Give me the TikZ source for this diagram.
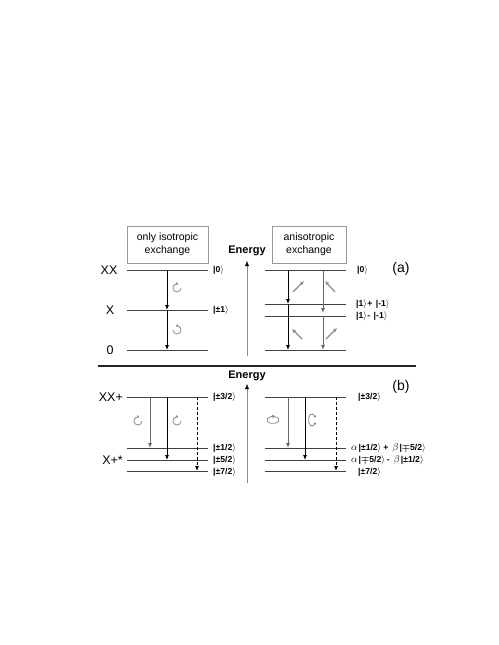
\documentclass[tikz,border=0pt]{standalone}
\usepackage{fontspec}
\setmainfont{Liberation Sans}
\usetikzlibrary{arrows.meta}
\newcommand{\kt}{\ensuremath{\rangle}}
\newcommand{\bmp}{{\boldmath$\mp$}}
\newcommand{\gk}[1]{{\fontsize{10}{10}\selectfont$#1$}}
\begin{document}
\begin{tikzpicture}[x=1pt,y=-1pt,
  level/.style={draw=black!75, line width=1pt},
  trans/.style={-{Latex[length=5pt,width=4pt]}, line width=0.8pt, black},
  transg/.style={-{Latex[length=5pt,width=4pt]}, line width=0.9pt, black!60},
  dtrans/.style={trans, dash pattern=on 3pt off 2pt},
  diag/.style={-{Latex[length=4pt,width=4pt]}, line width=1.2pt, black!45},
  energy/.style={-{Latex[length=5pt,width=4pt,black]}, line width=0.5pt, black!45},
  ebox/.style={draw=black!40, line width=0.6pt, minimum height=37pt, align=center, inner sep=1pt,
    font=\fontsize{10.5}{12.5}\selectfont},
  ket/.style={anchor=west, inner sep=0pt, font=\bfseries\fontsize{8.6}{9}\selectfont},
  stlbl/.style={inner sep=0pt, font=\fontsize{12.5}{13}\selectfont},
  elbl/.style={inner sep=0pt, font=\bfseries\fontsize{11}{12}\selectfont},
  panel/.style={inner sep=0pt, font=\fontsize{14}{15}\selectfont},
  rot/.style={draw=black!45, line width=0.8pt, -{Stealth[length=2.8pt,width=3.4pt]}},
  rot2/.style={draw=black!45, line width=0.8pt, {Stealth[length=2.4pt,width=3pt]}-{Stealth[length=2.4pt,width=3pt]}},
]
\useasboundingbox (0,0) rectangle (498,645);

% ---------- (a) left ----------
\node[ebox, minimum width=81pt] (boxL) at (167.5,244.5) {only isotropic\\exchange};
\coordinate (ltA) at (127,270); \coordinate (ltAe) at (208,270);
\coordinate (ltB) at (127,310); \coordinate (ltBe) at (208,310);
\coordinate (ltC) at (127,350); \coordinate (ltCe) at (208,350);
\draw[level] (ltA) -- (ltAe);
\draw[level] (ltB) -- (ltBe);
\draw[level] (ltC) -- (ltCe);
\node[stlbl] (sXX) at (109,270) {XX};
\node[stlbl] (sX) at (110,310) {X};
\node[stlbl] (s0) at (110,350) {0};
\node[ket] (k1) at (213,270) {|0\kt};
\node[ket] (k2) at (213,310) {|±1\kt};
\coordinate (cA) at (167,0);
\draw[trans] (cA |- ltA) -- (cA |- ltB);
\draw[trans] (cA |- ltB) -- (cA |- ltC);
\draw[rot] (177,288) ++(0:4pt) arc[start angle=0, end angle=-290, radius=4pt];
\draw[rot] (177,330) ++(180:4pt) arc[start angle=180, end angle=470, radius=4pt];

% energy arrow (a)
\node[elbl] (en1) at (247,251) {Energy};
\coordinate (en1b) at (247,356);
\coordinate (en1t) at (247,261);
\draw[energy] (en1b) -- (en1t);

% ---------- (a) right ----------
\node[ebox, minimum width=74pt] (boxR) at (309,244.5) {anisotropic\\exchange};
\coordinate (rtA) at (265,270); \coordinate (rtAe) at (346,270);
\coordinate (rtB) at (265,304); \coordinate (rtBe) at (346,304);
\coordinate (rtC) at (265,316); \coordinate (rtCe) at (346,316);
\coordinate (rtD) at (265,350); \coordinate (rtDe) at (346,350);
\draw[level] (rtA) -- (rtAe);
\draw[level] (rtB) -- (rtBe);
\draw[level] (rtC) -- (rtCe);
\draw[level] (rtD) -- (rtDe);
\node[ket] (k3) at (357,270) {|0\kt};
\node[ket] (k4) at (356,304) {|1\kt\hspace{0.5pt}+\hspace{1pt} |-1\kt};
\node[ket] (k5) at (356,316) {|1\kt\hspace{0.5pt}-\hspace{1pt} |-1\kt};
\node[panel] (pa) at (401,269) {(a)};
\coordinate (dA) at (288,0);
\coordinate (dB) at (323,0);
\draw[trans] (dA |- rtA) -- (dA |- rtB);
\draw[trans] (dA |- rtB) -- (dA |- rtD);
\draw[transg, shorten >=3pt] (dB |- rtA) -- (dB |- rtC);
\draw[transg] (dB |- rtC) -- (dB |- rtD);
\coordinate (g1s) at (293,292); \coordinate (g1e) at (304,281);
\coordinate (g2s) at (335,292); \coordinate (g2e) at (325,281);
\coordinate (g3s) at (302,339); \coordinate (g3e) at (292,329);
\coordinate (g4s) at (326,339); \coordinate (g4e) at (337,328);
\draw[diag] (g1s) -- (g1e);
\draw[diag] (g2s) -- (g2e);
\draw[diag] (g3s) -- (g3e);
\draw[diag] (g4s) -- (g4e);

% separator
\coordinate (sepL) at (98,366); \coordinate (sepR) at (416,366);
\draw[line width=1.1pt, black!85] (sepL) -- (sepR);

% ---------- (b) left ----------
\coordinate (lbA) at (127,397); \coordinate (lbAe) at (208,397);
\coordinate (lbB) at (127,448); \coordinate (lbBe) at (208,448);
\coordinate (lbC) at (127,460); \coordinate (lbCe) at (208,460);
\coordinate (lbD) at (127,471); \coordinate (lbDe) at (208,471);
\draw[level] (lbA) -- (lbAe);
\draw[level] (lbB) -- (lbBe);
\draw[level] (lbC) -- (lbCe);
\draw[level] (lbD) -- (lbDe);
\node[stlbl, anchor=east] (sXXp) at (123,397) {XX+};
\node[stlbl, anchor=east] (sXp) at (123,460) {X+*};
\node[ket] (k6) at (213,397) {|±3/2\kt};
\node[ket] (k7) at (213,448) {|±1/2\kt};
\node[ket] (k8) at (213,460) {|±5/2\kt};
\node[ket] (k9) at (213,472) {|±7/2\kt};
\coordinate (e1) at (150,0); \coordinate (e2) at (167,0); \coordinate (e3) at (197,0);
\draw[transg] (e1 |- lbA) -- (e1 |- lbB);
\draw[trans] (e2 |- lbA) -- (e2 |- lbC);
\draw[dtrans] (e3 |- lbA) -- (e3 |- lbD);
\draw[rot] (138,421) ++(0:4pt) arc[start angle=0, end angle=-290, radius=4pt];
\draw[rot] (177,421) ++(0:4pt) arc[start angle=0, end angle=-290, radius=4pt];

% energy arrow (b)
\node[elbl] (en2) at (247,376) {Energy};
\coordinate (en2b) at (247,483);
\coordinate (en2t) at (247,384);
\draw[energy] (en2b) -- (en2t);

% ---------- (b) right ----------
\coordinate (rbA) at (265,397); \coordinate (rbAe) at (346,397);
\coordinate (rbB) at (265,448); \coordinate (rbBe) at (346,448);
\coordinate (rbC) at (265,460); \coordinate (rbCe) at (346,460);
\coordinate (rbD) at (265,471); \coordinate (rbDe) at (346,471);
\draw[level] (rbA) -- (rbAe);
\draw[level] (rbB) -- (rbBe);
\draw[level] (rbC) -- (rbCe);
\draw[level] (rbD) -- (rbDe);
\node[ket] (k10) at (358,397) {|±3/2\kt};
\node[ket] (k11) at (351,448) {\gk{\alpha}\hspace{1pt}|±1/2\kt\hspace{2pt}+\hspace{4pt}\gk{\beta}\hspace{1pt}|\bmp5/2\kt};
\node[ket] (k12) at (351,460) {\gk{\alpha}\hspace{1pt}|\bmp5/2\kt\hspace{2pt}-\hspace{4pt}\gk{\beta}\hspace{1pt}|±1/2\kt};
\node[ket] (k13) at (358,472) {|±7/2\kt};
\node[panel] (pb) at (401,387) {(b)};
\coordinate (f1) at (288,0); \coordinate (f2) at (305,0); \coordinate (f3) at (336,0);
\draw[transg] (f1 |- rbA) -- (f1 |- rbB);
\draw[trans] (f2 |- rbA) -- (f2 |- rbC);
\draw[dtrans] (f3 |- rbA) -- (f3 |- rbD);
\draw[rot2] (273,420) ++(70:6pt and 3.5pt) arc[start angle=70, end angle=470, x radius=6pt, y radius=3.5pt];
\draw[rot2] (312,420) ++(-20:3.5pt and 6pt) arc[start angle=-20, end angle=-340, x radius=3.5pt, y radius=6pt];
\end{tikzpicture}
\end{document}
